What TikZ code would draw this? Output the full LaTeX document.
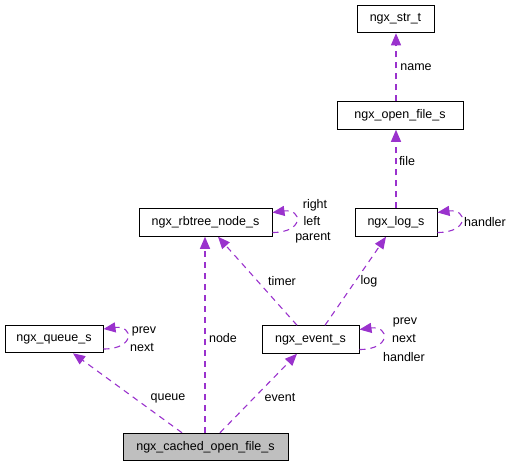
\documentclass[tikz,border=0pt]{standalone}
\usepackage{fontspec}
\setmainfont{Liberation Sans}
\usetikzlibrary{arrows.meta}
\definecolor{edgec}{HTML}{9A32CD}
\definecolor{fillg}{HTML}{BFBFBF}
\begin{document}
\begin{tikzpicture}[x=1pt,y=-1pt,
  every node/.style={font=\fontsize{12.5}{14}\selectfont, inner sep=0pt},
  cls/.style={draw=black, line width=1pt, rectangle, minimum height=27.5pt},
  lbl/.style={text=black},
  rel/.style={draw=edgec, line width=1.1pt, dash pattern=on 6pt off 5pt, -{Triangle[length=12pt,width=10pt]}}]
\useasboundingbox (0,0) rectangle (512,467);
\node[cls, minimum width=77pt] (str) at (395.5,19) {ngx\_str\_t};
\node[cls, minimum width=126pt] (open) at (400,115.5) {ngx\_open\_file\_s};
\node[cls, minimum width=82pt] (log) at (396,222.5) {ngx\_log\_s};
\node[cls, minimum width=133pt] (rb) at (205.5,222.5) {ngx\_rbtree\_node\_s};
\node[cls, minimum width=98pt] (queue) at (54,339) {ngx\_queue\_s};
\node[cls, minimum width=97pt] (event) at (310.5,339.5) {ngx\_event\_s};
\node[cls, minimum width=165pt, fill=fillg] (cached) at (205.5,447) {ngx\_cached\_open\_file\_s};

% edges
\draw[rel] ([xshift=-4pt]open.north) -- ([xshift=0.5pt]str.south);
\draw[rel] (log.north) -- ([xshift=-4pt]open.south);
\draw[rel] ([xshift=14.5pt]event.north) -- ([xshift=-10pt]log.south);
\draw[rel] ([xshift=-13.5pt]event.north) -- ([xshift=12.5pt]rb.south);
\draw[rel] ([xshift=-0.5pt]cached.north) -- ([xshift=-0.5pt]rb.south);
\draw[rel] ([xshift=-23.5pt]cached.north) -- ([xshift=19pt]queue.south);
\draw[rel] ([xshift=14.5pt]cached.north) -- ([xshift=-13.5pt]event.south);

% self loops
\draw[rel] ([yshift=-10pt]rb.east) .. controls +(32,0) and +(30,-4) .. ([yshift=10pt]rb.east);
\draw[rel] ([yshift=-10pt]queue.east) .. controls +(32,0) and +(30,-4) .. ([yshift=10pt]queue.east);
\draw[rel] ([yshift=-10pt]event.east) .. controls +(32,0) and +(30,-4) .. ([yshift=10pt]event.east);
\draw[rel] ([yshift=-10pt]log.east) .. controls +(32,0) and +(30,-4) .. ([yshift=10pt]log.east);

% labels
\node[lbl] (lname) at (416,67) {name};
\node[lbl] (lfile) at (407,161) {file};
\node[lbl] (llog) at (369,281) {log};
\node[lbl] (ltimer) at (282,281) {timer};
\node[lbl] (lnode) at (223,338) {node};
\node[lbl] (lqueue) at (168,398) {queue};
\node[lbl] (levent) at (280,398) {event};
\node[lbl] (rbr) at (315,205) {right};
\node[lbl] (rbl) at (312,221) {left};
\node[lbl] (rbp) at (313,238) {parent};
\node[lbl] (qp) at (144,331) {prev};
\node[lbl] (qn) at (142,348) {next};
\node[lbl] (ep) at (405,322) {prev};
\node[lbl] (en) at (404,339) {next};
\node[lbl] (eh) at (404,357) {handler};
\node[lbl] (lh) at (485,222) {handler};
\end{tikzpicture}
\end{document}
